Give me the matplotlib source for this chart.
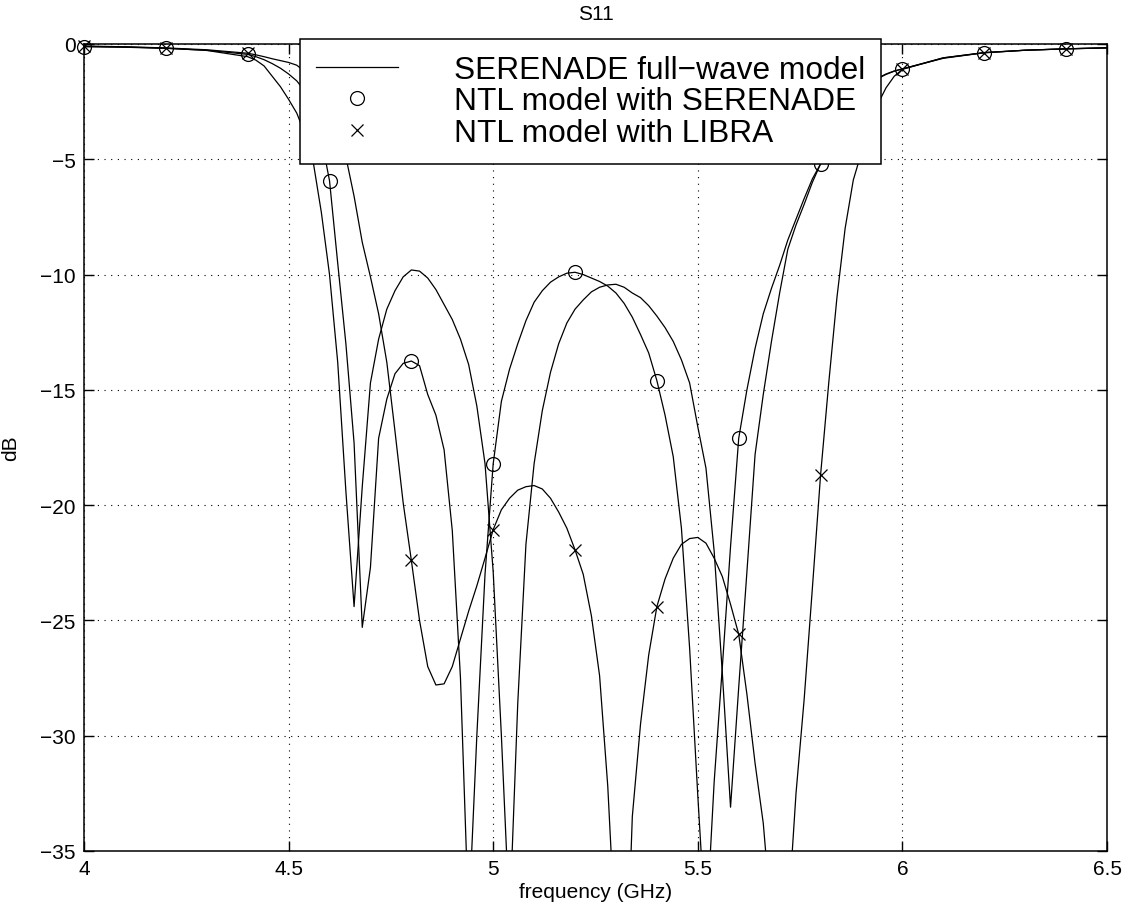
import numpy as np
import matplotlib
matplotlib.use("Agg")
import matplotlib.pyplot as plt

plt.rcParams["font.family"] = ["Liberation Sans", "DejaVu Sans"]
plt.rcParams["axes.unicode_minus"] = True

# sweep points (GHz)
freq = [4.00, 4.10, 4.20, 4.30, 4.40,
        4.42, 4.44, 4.46, 4.48, 4.50, 4.52, 4.54, 4.56, 4.58, 4.60,
        4.62, 4.64, 4.66, 4.68, 4.70, 4.72, 4.74, 4.76, 4.78, 4.80,
        4.82, 4.84, 4.86, 4.88, 4.90, 4.92, 4.94, 4.96, 4.98, 5.00,
        5.02, 5.04, 5.06, 5.08, 5.10, 5.12, 5.14, 5.16, 5.18, 5.20,
        5.22, 5.24, 5.26, 5.28, 5.30, 5.32, 5.34, 5.36, 5.38, 5.40,
        5.42, 5.44, 5.46, 5.48, 5.50, 5.52, 5.54, 5.56, 5.58, 5.60,
        5.62, 5.64, 5.66, 5.68, 5.70, 5.72, 5.74, 5.76, 5.78, 5.80,
        5.82, 5.84, 5.86, 5.88, 5.90, 5.92, 5.94, 5.96, 5.98, 6.00,
        6.10, 6.20, 6.30, 6.40, 6.50]

# S11 in dB
serenade_full = [-0.10, -0.13, -0.18, -0.28, -0.55,
                 -0.70, -0.95, -1.40, -1.85, -2.40, -3.00, -3.90, -5.10, -7.30, -10.00,
                 -13.80, -19.40, -24.40, -19.20, -14.70, -12.80, -11.50, -10.70, -10.10, -9.80,
                 -9.85, -10.15, -10.65, -11.30, -11.95, -12.80, -13.90, -15.70, -18.20, -22.90,
                 -30.00, -38.00, -28.60, -21.70, -18.20, -15.90, -14.24, -13.00, -12.10, -11.50,
                 -11.10, -10.75, -10.55, -10.45, -10.42, -10.55, -10.80, -11.00, -11.35, -11.80,
                 -12.30, -12.90, -13.70, -14.70, -16.60, -18.40, -22.00, -27.30, -33.10, -27.90,
                 -22.90, -17.80, -15.20, -12.90, -10.80, -8.90, -7.85, -6.95, -6.00, -5.20,
                 -4.30, -3.55, -2.95, -2.45, -2.05, -1.75, -1.50, -1.32, -1.18, -1.08,
                 -0.62, -0.38, -0.27, -0.21, -0.17]

ntl_serenade = [-0.12, -0.14, -0.19, -0.27, -0.45,
                -0.55, -0.68, -0.85, -1.05, -1.30, -1.60, -2.05, -2.80, -4.10, -5.93,
                -9.50, -13.00, -17.30, -25.30, -22.70, -17.10, -15.40, -14.30, -13.85, -13.75,
                -13.95, -15.20, -16.10, -17.60, -21.10, -27.50, -38.00, -30.00, -23.00, -18.20,
                -15.50, -14.10, -13.00, -12.00, -11.20, -10.70, -10.33, -10.10, -9.94, -9.90,
                -10.00, -10.15, -10.30, -10.50, -10.80, -11.25, -11.85, -12.60, -13.40, -14.60,
                -16.10, -17.90, -21.00, -26.20, -32.60, -38.60, -32.00, -27.00, -21.80, -17.10,
                -15.00, -13.20, -11.70, -10.60, -9.60, -8.50, -7.60, -6.70, -5.85, -5.20,
                -4.25, -3.50, -2.90, -2.40, -2.00, -1.72, -1.48, -1.30, -1.17, -1.08,
                -0.60, -0.38, -0.27, -0.21, -0.17]

ntl_libra = [-0.09, -0.12, -0.17, -0.25, -0.40,
             -0.47, -0.55, -0.64, -0.72, -0.80, -0.92, -1.20, -1.70, -2.40, -3.10,
             -3.90, -4.90, -6.60, -8.60, -10.10, -11.70, -13.80, -16.80, -19.90, -22.40,
             -25.00, -27.00, -27.80, -27.75, -27.00, -25.80, -24.60, -23.50, -22.30, -21.06,
             -20.20, -19.70, -19.35, -19.20, -19.15, -19.30, -19.70, -20.30, -21.00, -21.94,
             -23.00, -24.80, -27.40, -32.20, -39.20, -43.50, -33.50, -29.50, -26.50, -24.40,
             -23.20, -22.30, -21.70, -21.45, -21.40, -21.65, -22.30, -23.10, -24.30, -25.60,
             -28.20, -31.20, -33.80, -38.00, -42.00, -38.00, -32.50, -28.40, -23.60, -18.70,
             -14.70, -11.00, -8.00, -5.90, -4.70, -3.65, -2.60, -1.90, -1.40, -1.10,
             -0.60, -0.37, -0.27, -0.21, -0.16]

marker_freq = [4.0, 4.2, 4.4, 4.6, 4.8, 5.0, 5.2, 5.4, 5.6, 5.8, 6.0, 6.2, 6.4]
x_ticks = [4, 4.5, 5, 5.5, 6, 6.5]
x_tick_labels = ["4", "4.5", "5", "5.5", "6", "6.5"]
y_ticks = [0, -5, -10, -15, -20, -25, -30, -35]
labels = ["SERENADE full\u2212wave model", "NTL model with SERENADE", "NTL model with LIBRA"]

f = np.array(freq)
pick = np.isin(np.round(f, 2), np.round(marker_freq, 2))

fig = plt.figure(figsize=(11.31, 9.2), dpi=100)
ax = fig.add_axes([84 / 1131, 68 / 920, 1023 / 1131, 807 / 920])

ax.plot(f, serenade_full, color="k", lw=0.9, label=labels[0])
ax.plot(f[pick], np.array(ntl_serenade)[pick], "o", mfc="none", mec="k",
        ms=10, mew=0.9, label=labels[1], clip_on=False)
ax.plot(f[pick], np.array(ntl_libra)[pick], "x", color="k",
        ms=8, mew=0.9, label=labels[2], clip_on=False)
ax.plot(f, ntl_serenade, color="k", lw=0.9)
ax.plot(f, ntl_libra, color="k", lw=0.9)

ax.set_xlim(4, 6.5)
ax.set_ylim(-35, 0)
ax.set_xticks(x_ticks)
ax.set_xticklabels(x_tick_labels)
ax.set_yticks(y_ticks)
ax.grid(True, color="k", linestyle=(0, (1, 5)), linewidth=0.8)
ax.tick_params(direction="in", length=7, width=1, top=True, right=True,
               labelsize=15, pad=6)
for s in ax.spines.values():
    s.set_linewidth(1.1)

ax.set_title("S11", fontsize=15, pad=18)
ax.set_xlabel("frequency (GHz)", fontsize=15, labelpad=3)
ax.set_ylabel("dB", fontsize=15, labelpad=14)

leg = ax.legend(loc="upper left", bbox_to_anchor=(300 / 1131, 1 - 40 / 920),
                bbox_transform=fig.transFigure, fontsize=22.8, fancybox=False,
                edgecolor="k", framealpha=1, borderpad=0.5, handlelength=2.6,
                handletextpad=1.75, labelspacing=0.05, borderaxespad=0)
leg.get_frame().set_linewidth(1.1)

fig.savefig("out.png", dpi=100)
plt.close(fig)
